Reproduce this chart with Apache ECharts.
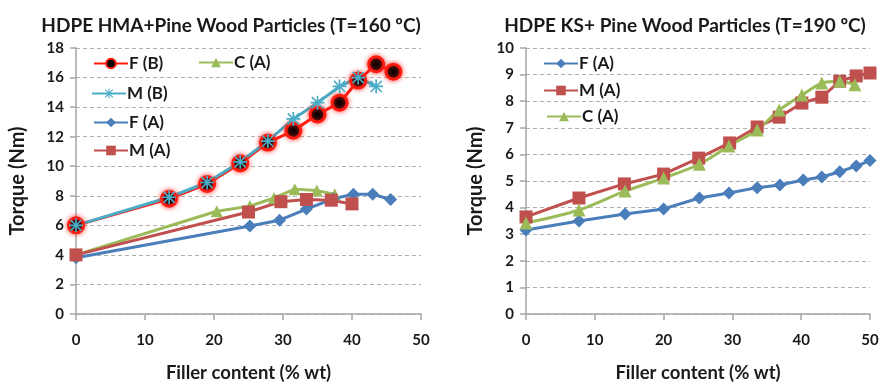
<!DOCTYPE html>
<html>
<head>
<meta charset="utf-8">
<script src="https://cdn.jsdelivr.net/npm/echarts@6/dist/echarts.min.js"></script>
<style>
  html, body { margin: 0; padding: 0; background: #fff; }
  #chart { width: 881px; height: 384px; }
</style>
</head>
<body>
<div id="chart"></div>
<script>
// ---- HDPE HMA + Pine Wood Particles (T=160 ºC) ----
const hmaFB_x = [0, 13.5, 19, 23.8, 27.8, 31.5, 35, 38.2, 40.9, 43.5, 46];
const hmaFB_y = [6.0, 7.8, 8.8, 10.2, 11.6, 12.4, 13.5, 14.3, 15.8, 16.9, 16.4];
const hmaMB_x = [0, 13.5, 19, 23.8, 27.8, 31.5, 35, 38.2, 40.9, 43.5];
const hmaMB_y = [6.0, 7.9, 8.9, 10.3, 11.7, 13.2, 14.3, 15.4, 16.0, 15.4];
const hmaFA_x = [0, 25.2, 29.5, 33.4, 37.3, 40.2, 43, 45.6];
const hmaFA_y = [3.8, 5.95, 6.35, 7.1, 7.8, 8.1, 8.1, 7.75];
const hmaMA_x = [0, 25, 29.7, 33.4, 37, 40];
const hmaMA_y = [4.0, 6.9, 7.6, 7.75, 7.7, 7.45];
const hmaCA_x = [0, 20.4, 25.2, 28.7, 31.7, 34.9, 37.5];
const hmaCA_y = [4.0, 6.95, 7.3, 7.85, 8.45, 8.35, 8.1];

// ---- HDPE KS + Pine Wood Particles (T=190 ºC) ----
const ksFA_x = [0, 7.7, 14.4, 20, 25.2, 29.5, 33.6, 36.9, 40.3, 43, 45.6, 48, 50];
const ksFA_y = [3.16, 3.5, 3.76, 3.95, 4.36, 4.55, 4.75, 4.85, 5.04, 5.15, 5.35, 5.56, 5.77];
const ksMA_x = [0, 7.7, 14.3, 20, 25.1, 29.6, 33.6, 36.8, 40.1, 43, 45.6, 48, 50];
const ksMA_y = [3.65, 4.36, 4.89, 5.26, 5.86, 6.43, 7.03, 7.4, 7.93, 8.15, 8.75, 8.95, 9.06];
const ksCA_x = [0, 7.7, 14.4, 20, 25.2, 29.5, 33.6, 36.8, 40.1, 43, 45.6, 47.8];
const ksCA_y = [3.42, 3.91, 4.62, 5.11, 5.63, 6.32, 6.92, 7.67, 8.23, 8.68, 8.75, 8.62];

// Axis settings
const xTicks = { min: 0, max: 50, interval: 10 };
const yTicksHMA = { min: 0, max: 18, interval: 2 };
const yTicksKS = { min: 0, max: 10, interval: 1 };

const titles = ['HDPE HMA+Pine Wood Particles (T=160 ºC)', 'HDPE KS+ Pine Wood Particles (T=190 ºC)'];
const xName = 'Filler content (% wt)';
const yName = 'Torque (Nm)';

const FONT = 'Lato, "Open Sans", sans-serif';
const TXT = '#1a1a1a';

const zip = (xs, ys) => xs.map((x, i) => [x, ys[i]]);

// asterisk marker (vertical and horizontal bars plus an X)
const STAR = 'path://M4.4 0 H5.6 V10 H4.4 Z M0.6 1.4 L1.4 0.6 L9.4 8.6 L8.6 9.4 Z M8.6 0.6 L9.4 1.4 L1.4 9.4 L0.6 8.6 Z M0 4.4 H10 V5.6 H0 Z';

const COL = {
  red: '#ff1a10',
  cyan: '#4bacc6',
  blue: '#4a7ebb',
  brick: '#c0504d',
  green: '#9bbb59'
};

function xAxisFor(gridIndex) {
  return {
    type: 'value', gridIndex, ...xTicks,
    name: xName, nameLocation: 'middle', nameGap: 50,
    nameTextStyle: { fontFamily: FONT, fontWeight: 'bold', fontSize: 18.5, color: TXT },
    axisLine: { show: true, lineStyle: { color: '#a6a6a6', width: 1.5 } },
    axisTick: { show: true, length: 6, lineStyle: { color: '#a6a6a6', width: 1.5 } },
    axisLabel: { fontFamily: FONT, fontWeight: 'bold', fontSize: 15, color: TXT, margin: 19 },
    splitLine: { show: false }
  };
}
function yAxisFor(gridIndex, ticks, gap) {
  return {
    type: 'value', gridIndex, ...ticks,
    name: yName, nameLocation: 'middle', nameGap: gap, nameRotate: 90,
    nameTextStyle: { fontFamily: FONT, fontWeight: 'bold', fontSize: 20, color: TXT },
    axisLine: { show: true, lineStyle: { color: '#a6a6a6', width: 1.5 } },
    axisTick: { show: true, length: 6, lineStyle: { color: '#a6a6a6', width: 1.5 } },
    axisLabel: { fontFamily: FONT, fontWeight: 'bold', fontSize: 15, color: TXT, margin: 12 },
    splitLine: { show: true, lineStyle: { color: '#b0b0b0', type: [4, 3], width: 1.2 } }
  };
}

function legendAt(name, left, top) {
  return {
    data: [{ name }], left, top, itemWidth: 34, itemHeight: 12, itemGap: 0,
    textStyle: { fontFamily: FONT, fontWeight: 'bold', fontSize: 17, color: TXT, padding: [0, 0, 0, -4] },
    padding: 0
  };
}

const titleStyle = { fontFamily: FONT, fontWeight: 'bold', fontSize: 19, color: TXT };

const option = {
  backgroundColor: '#fff',
  animation: false,
  title: [
    { text: titles[0], left: 226, top: 11, textAlign: 'center', textStyle: titleStyle },
    { text: titles[1], left: 680, top: 11, textAlign: 'center', textStyle: titleStyle }
  ],
  grid: [
    { left: 76, top: 48, width: 345, height: 266, containLabel: false, outerBoundsMode: 'none' },
    { left: 526, top: 48, width: 344, height: 266, containLabel: false, outerBoundsMode: 'none' }
  ],
  xAxis: [xAxisFor(0), xAxisFor(1)],
  yAxis: [yAxisFor(0, yTicksHMA, 48), yAxisFor(1, yTicksKS, 40)],
  legend: [
    legendAt('F (B)', 93, 55),
    legendAt('C (A)', 198, 54),
    legendAt('M (B)', 91, 85),
    legendAt('F (A)', 93, 114),
    legendAt('M (A)', 93, 142),
    legendAt('F (A) ', 543, 55),
    legendAt('M (A) ', 543, 82),
    legendAt('C (A) ', 546, 108)
  ],
  series: [
    { name: 'F (B)', type: 'line', xAxisIndex: 0, yAxisIndex: 0, data: zip(hmaFB_x, hmaFB_y),
      symbol: 'circle', symbolSize: 15, lineStyle: { color: COL.red, width: 3 },
      itemStyle: { color: '#000', borderColor: COL.red, borderWidth: 3, shadowColor: 'rgba(255,40,30,0.8)', shadowBlur: 5 } },
    { name: 'C (A)', type: 'line', xAxisIndex: 0, yAxisIndex: 0, data: zip(hmaCA_x, hmaCA_y),
      symbol: 'triangle', symbolSize: 12, lineStyle: { color: COL.green, width: 3 },
      itemStyle: { color: COL.green } },
    { name: 'M (B)', type: 'line', xAxisIndex: 0, yAxisIndex: 0, data: zip(hmaMB_x, hmaMB_y),
      symbol: STAR, symbolSize: 14, lineStyle: { color: COL.cyan, width: 3 },
      itemStyle: { color: COL.cyan } },
    { name: 'F (A)', type: 'line', xAxisIndex: 0, yAxisIndex: 0, data: zip(hmaFA_x, hmaFA_y),
      symbol: 'diamond', symbolSize: 13, lineStyle: { color: COL.blue, width: 3 },
      itemStyle: { color: COL.blue } },
    { name: 'M (A)', type: 'line', xAxisIndex: 0, yAxisIndex: 0, data: zip(hmaMA_x, hmaMA_y),
      symbol: 'rect', symbolSize: 13, lineStyle: { color: COL.brick, width: 3 },
      itemStyle: { color: COL.brick } },

    { name: 'F (A) ', type: 'line', xAxisIndex: 1, yAxisIndex: 1, data: zip(ksFA_x, ksFA_y),
      symbol: 'diamond', symbolSize: 13, lineStyle: { color: COL.blue, width: 3 },
      itemStyle: { color: COL.blue } },
    { name: 'M (A) ', type: 'line', xAxisIndex: 1, yAxisIndex: 1, data: zip(ksMA_x, ksMA_y),
      symbol: 'rect', symbolSize: 13, lineStyle: { color: COL.brick, width: 3 },
      itemStyle: { color: COL.brick } },
    { name: 'C (A) ', type: 'line', xAxisIndex: 1, yAxisIndex: 1, data: zip(ksCA_x, ksCA_y),
      symbol: 'triangle', symbolSize: 13, smooth: 0.3, lineStyle: { color: COL.green, width: 3 },
      itemStyle: { color: COL.green } }
  ]
};

const chart = echarts.init(document.getElementById('chart'), null, { renderer: 'canvas' });
chart.setOption(option);
</script>
</body>
</html>
